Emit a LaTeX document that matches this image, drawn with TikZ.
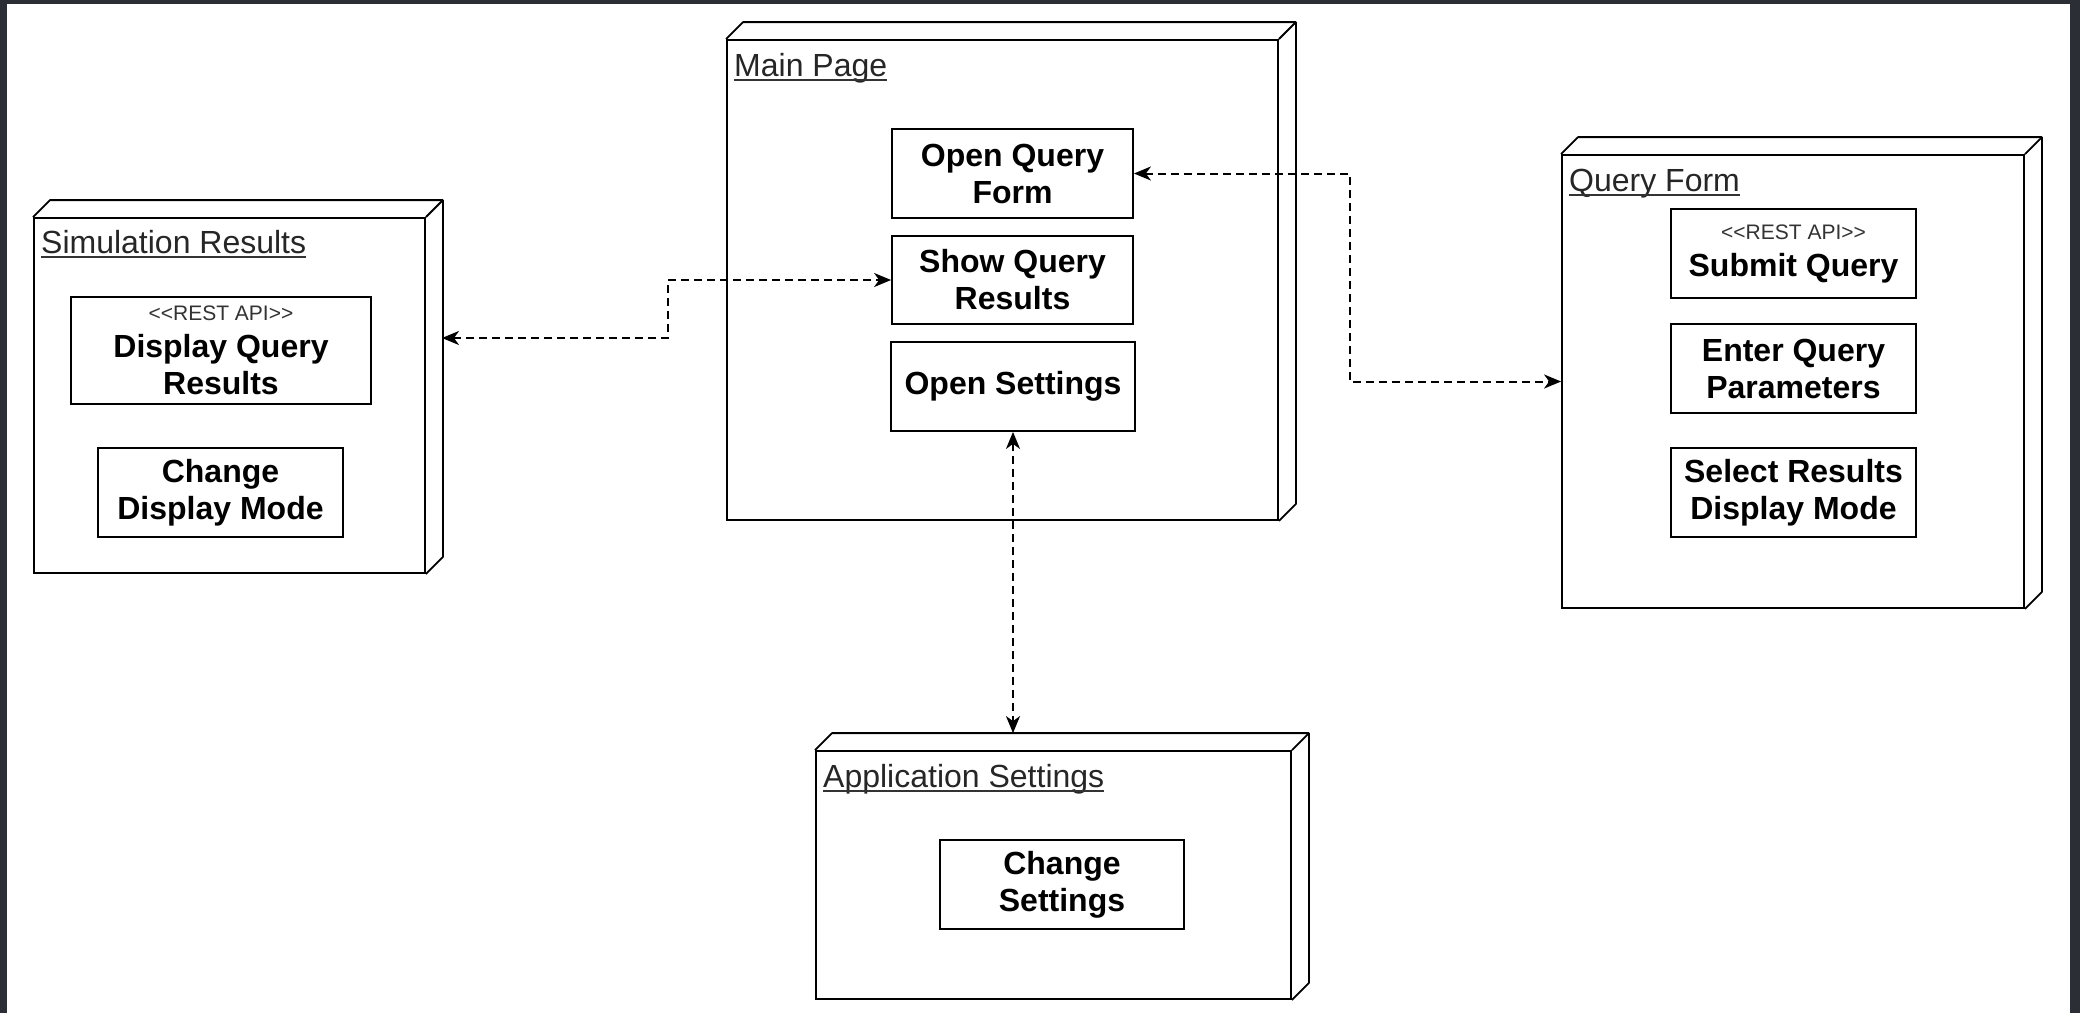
\documentclass[tikz,border=0pt]{standalone}
\usepackage{fontspec}
\setmainfont{Liberation Sans}
\usepackage{tikz}
\usetikzlibrary{arrows.meta,calc}
\definecolor{bgdark}{HTML}{2B2E35}

\newcommand{\depthface}[1]{%
  \draw[boxline] (#1.north west) -- ++(17,-17) -- ([shift={(17,-17)}]#1.north east)
    -- ([shift={(17,-17)}]#1.south east) -- (#1.south east);
  \draw[boxline] (#1.north east) -- ++(17,-17);}
\newcommand{\stereo}{\mdseries\color{black!80}\fontsize{21}{24}\selectfont
  \textless\kern0pt\textless REST API\textgreater\kern0pt\textgreater}

\begin{document}
\begin{tikzpicture}[x=1pt,y=-1pt,
  boxline/.style={line width=1.8pt,line join=round},
  nodebox/.style={draw,line width=1.8pt,fill=white,inner sep=0pt},
  comp/.style={draw,line width=1.8pt,align=center,inner sep=0pt,minimum width=245pt,minimum height=89pt,
    font=\bfseries\fontsize{32}{37}\selectfont},
  ntitle/.style={inner sep=0pt,anchor=base west,font=\fontsize{32}{38}\selectfont,text=black!85},
  conn/.style={line width=2pt,dash pattern=on 8pt off 5pt,
    {Stealth[length=17pt,width=14pt,inset=5pt]}-{Stealth[length=17pt,width=14pt,inset=5pt]}}]
            \fill[bgdark] (0,0) rectangle (2080,1013);
            \fill[white] (7,4) rectangle (2070,1013);
            \useasboundingbox (0,0) rectangle (2080,1013);
            \node[nodebox,minimum width=391pt,minimum height=355pt] (sim) at (229.5,395.5) {};
            \depthface{sim}
            \node[nodebox,minimum width=551pt,minimum height=480pt] (main) at (1002.5,280) {};
            \depthface{main}
            \node[nodebox,minimum width=462pt,minimum height=453pt] (qform) at (1793,381.5) {};
            \depthface{qform}
            \node[nodebox,minimum width=475pt,minimum height=248pt] (appset) at (1053.5,875) {};
            \depthface{appset}
            \node[ntitle] (simtitle) at (41,253) {Simulation Results};
            \node[ntitle] (maintitle) at (734,76) {Main Page};
            \node[ntitle] (qtitle) at (1569,191) {Query Form};
            \node[ntitle] (apptitle) at (823,787) {Application Settings};
            \foreach \t in {simtitle,maintitle,qtitle,apptitle}
              \draw[line width=1.5pt,black!80] ([yshift=-4pt]\t.base west) -- ([yshift=-4pt]\t.base east);
            \node[comp,minimum width=300pt,minimum height=107pt] (dqr) at (221,350.5) {{\stereo}\\Display Query\\Results};
            \node[comp] (cdm) at (220.5,492.5) {Change\\Display Mode};
            \node[comp,minimum width=241pt] (oqf) at (1012.5,173.5) {Open Query\\Form};
            \node[comp,minimum width=241pt,minimum height=88pt] (sqr) at (1012.5,280) {Show Query\\Results};
            \node[comp,minimum width=244pt] (os) at (1013,386.5) {Open Settings};
            \node[comp] (sq) at (1793.5,253.5) {{\stereo}\\Submit Query};
            \node[comp] (eqp) at (1793.5,368.5) {Enter Query\\Parameters};
            \node[comp] (srdm) at (1793.5,492.5) {Select Results\\Display Mode};
            \node[comp,minimum width=244pt] (cs) at (1062,884.5) {Change\\Settings};
            \coordinate (simside) at (442,338);
            \coordinate (apptop) at ([yshift=17pt]appset.north);
            \draw[conn] (simside) -- ++(226,0) |- (sqr.west);
            \draw[conn] (oqf.east) -- ++(216,0) |- (qform.west);
            \draw[conn] (os.south) -- (os.south |- apptop);
          \end{tikzpicture}
\end{document}
